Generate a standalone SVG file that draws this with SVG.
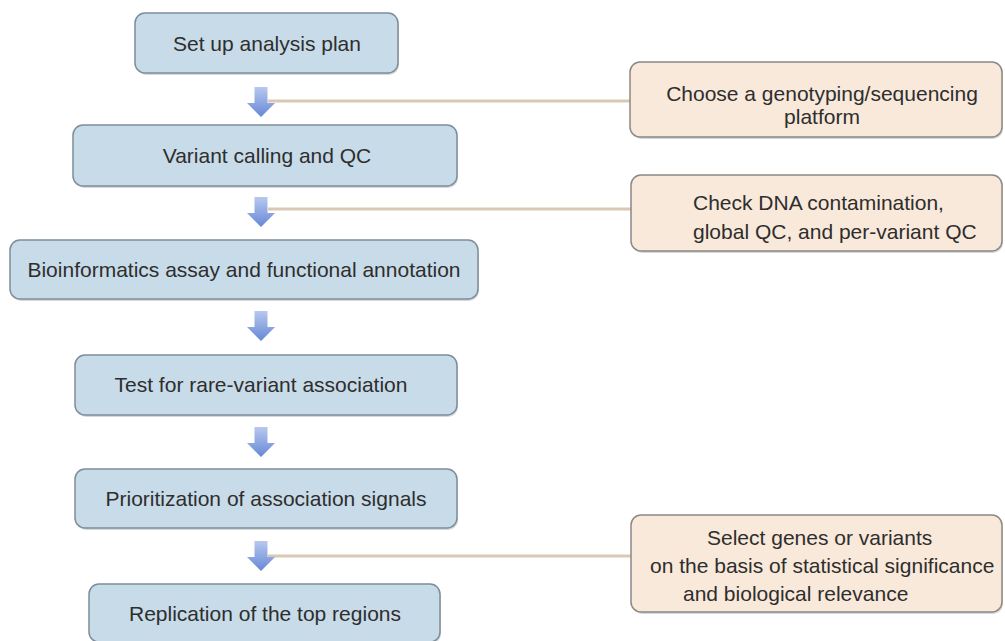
<svg xmlns="http://www.w3.org/2000/svg" width="1005" height="641" viewBox="0 0 1005 641">
<defs>
<linearGradient id="ag" x1="0" y1="0" x2="0" y2="1">
<stop offset="0" stop-color="#b8c8ef"/>
<stop offset="1" stop-color="#6688d6"/>
</linearGradient>
<style>
.bb{fill:#c8dbe8;stroke:#7e8d99;stroke-width:1.5}
.ob{fill:#f9e9da;stroke:#8c8884;stroke-width:1.5}
.sh{fill:#b9bfc4;opacity:0.6}
.t{font-family:"Liberation Sans",Arial,sans-serif;font-size:21px;fill:#2e2e2e}
.c{text-anchor:middle}
.ln{stroke:#d9c9b4;stroke-width:3;fill:none}
.ar{fill:url(#ag)}
</style>
</defs>
<rect width="1005" height="641" fill="#ffffff"/>
<g id="connectors">
<line class="ln" x1="268" y1="101" x2="631" y2="101"/>
<line class="ln" x1="268" y1="209" x2="631" y2="209"/>
<line class="ln" x1="268" y1="556" x2="631" y2="556"/>
<path class="ar" d="M254.5,87 h13 v16 h7.5 l-14,14 l-14,-14 h7.5 z"/>
<path class="ar" d="M254.5,197 h13 v16 h7.5 l-14,14 l-14,-14 h7.5 z"/>
<path class="ar" d="M254.5,311 h13 v16 h7.5 l-14,14 l-14,-14 h7.5 z"/>
<path class="ar" d="M254.5,427 h13 v16 h7.5 l-14,14 l-14,-14 h7.5 z"/>
<path class="ar" d="M254.5,541 h13 v16 h7.5 l-14,14 l-14,-14 h7.5 z"/>
</g>
<g id="n1">
<rect class="sh" x="136" y="15" width="263" height="60" rx="10"/>
<rect class="bb" x="135" y="13" width="263" height="60" rx="10"/>
<text class="t c" x="267" y="51">Set up analysis plan</text>
</g>
<g id="n2">
<rect class="sh" x="74" y="127" width="384" height="61" rx="10"/>
<rect class="bb" x="73" y="125" width="384" height="61" rx="10"/>
<text class="t c" x="267" y="163">Variant calling and QC</text>
</g>
<g id="n3">
<rect class="sh" x="11" y="242" width="468" height="59" rx="10"/>
<rect class="bb" x="10" y="240" width="468" height="59" rx="10"/>
<text class="t c" x="244" y="277">Bioinformatics assay and functional annotation</text>
</g>
<g id="n4">
<rect class="sh" x="76" y="357" width="382" height="60" rx="10"/>
<rect class="bb" x="75" y="355" width="382" height="60" rx="10"/>
<text class="t c" x="261" y="392">Test for rare-variant association</text>
</g>
<g id="n5">
<rect class="sh" x="76" y="471" width="382" height="59" rx="10"/>
<rect class="bb" x="75" y="469" width="382" height="59" rx="10"/>
<text class="t c" x="266" y="506">Prioritization of association signals</text>
</g>
<g id="n6">
<rect class="sh" x="90" y="586" width="351" height="58" rx="10"/>
<rect class="bb" x="89" y="584" width="351" height="58" rx="10"/>
<text class="t c" x="265" y="621">Replication of the top regions</text>
</g>
<g id="o1">
<rect class="sh" x="631" y="64" width="372" height="75" rx="10"/>
<rect class="ob" x="630" y="62" width="372" height="75" rx="10"/>
<text class="t c" x="822" y="101">Choose a genotyping/sequencing</text>
<text class="t c" x="822" y="124">platform</text>
</g>
<g id="o2">
<rect class="sh" x="632" y="177" width="371" height="76" rx="10"/>
<rect class="ob" x="631" y="175" width="371" height="76" rx="10"/>
<text class="t" x="693" y="210">Check DNA contamination,</text>
<text class="t" x="693" y="239">global QC, and per-variant QC</text>
</g>
<g id="o3">
<rect class="sh" x="632" y="517" width="371" height="97" rx="10"/>
<rect class="ob" x="631" y="515" width="371" height="97" rx="10"/>
<text class="t" x="707" y="545">Select genes or variants</text>
<text class="t" x="650" y="573">on the basis of statistical significance</text>
<text class="t" x="683" y="601">and biological relevance</text>
</g>
</svg>
